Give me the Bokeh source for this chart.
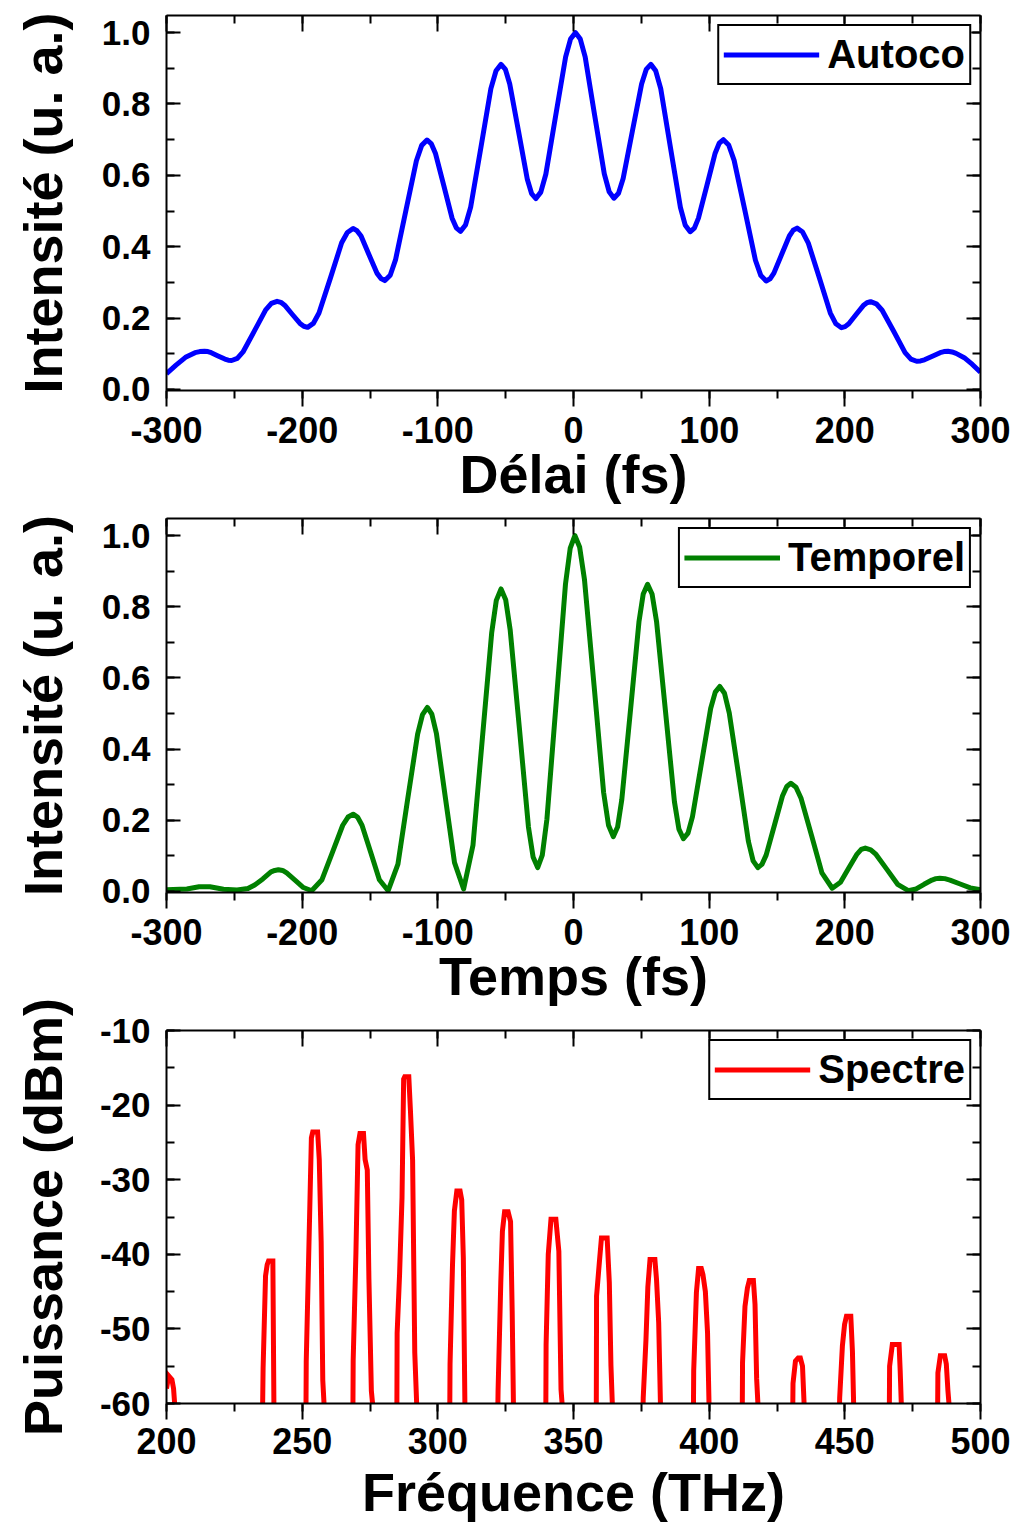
from bokeh.plotting import figure
from bokeh.layouts import column
from bokeh.models import (Range1d, LinearAxis, SingleIntervalTicker,
                          PrintfTickFormatter, CustomJSTickFormatter)
from bokeh.embed import file_html
from bokeh.resources import INLINE

# ---------------- data ----------------
delay_fs = [-300, -293, -286, -279, -275.5, -272, -269.5, -267, -262, -257, -254.5, -252,
            -247.8, -243.6, -235.2, -226.9, -222.7, -218.5, -215.7, -212.9, -207.2, -201.6,
            -198.8, -196, -191.8, -187.6, -179.2, -170.9, -166.7, -162.5, -159.6, -156.6,
            -150.8, -144.9, -141.9, -139, -135.1, -131.2, -123.5, -115.8, -111.9, -108,
            -104.9, -101.8, -95.6, -89.5, -86.4, -83.3, -79.6, -75.8, -68.3, -60.9, -57.1,
            -53.4, -50.2, -47.0, -40.5, -34.1, -30.9, -27.7, -24.1, -20.4, -13.1, -5.8, -2.2,
            1.5, 5.0, 8.6, 15.6, 22.7, 26.3, 29.8, 33.2, 36.6, 43.4, 50.2, 53.6, 57, 60.6,
            64.3, 71.5, 78.8, 82.4, 86, 89.1, 92.1, 98.3, 104.4, 107.4, 110.5, 114.4, 118.4,
            126.3, 134.1, 138.1, 142, 144.9, 147.7, 153.4, 159.1, 161.9, 164.8, 168.9, 173.0,
            181.2, 189.3, 193.4, 197.5, 200.2, 202.9, 208.3, 213.6, 216.3, 219, 223.2, 227.5,
            236.0, 244.4, 248.7, 252.9, 255.8, 258.7, 264.5, 270.2, 273.1, 276, 279, 282, 288,
            294, 300]
autoco = [0.044, 0.068, 0.090, 0.103, 0.106, 0.107, 0.106, 0.103, 0.094, 0.085, 0.082, 0.081,
          0.087, 0.105, 0.164, 0.223, 0.241, 0.247, 0.244, 0.236, 0.210, 0.185,
          0.177, 0.174, 0.185, 0.214, 0.312, 0.411, 0.440, 0.451, 0.445, 0.430,
          0.378, 0.326, 0.311, 0.305, 0.320, 0.363, 0.502, 0.641, 0.684, 0.699,
          0.689, 0.662, 0.571, 0.480, 0.453, 0.443, 0.461, 0.511, 0.677, 0.843, 0.893,
          0.911, 0.897, 0.856, 0.723, 0.590, 0.549, 0.535, 0.553, 0.603, 0.768, 0.932, 0.982,
          1.000, 0.982, 0.932, 0.768, 0.604, 0.554, 0.536, 0.550, 0.591, 0.724, 0.856, 0.897, 0.911, 0.893,
          0.843, 0.677, 0.510, 0.460, 0.442, 0.452, 0.480, 0.571, 0.662, 0.690, 0.700, 0.685, 0.642,
          0.502, 0.362, 0.319, 0.304, 0.310, 0.326, 0.378, 0.430, 0.446, 0.452, 0.441, 0.411,
          0.313, 0.214, 0.184, 0.173, 0.176, 0.184, 0.210, 0.235, 0.243, 0.246, 0.240, 0.222,
          0.163, 0.103, 0.085, 0.079, 0.080, 0.083, 0.093, 0.103, 0.106, 0.107, 0.105, 0.101, 0.089,
          0.070, 0.048]

time_fs = [-300, -285, -276, -268, -258, -248, -240, -235, -229, -223, -220.2, -217.5, -214.4,
           -211.4, -205.3, -199.1, -193, -185.4, -177.7, -170.1, -166.2, -162.4, -159.2, -155.9,
           -149.5, -143.1, -136.6, -129.4, -122.2, -114.9, -111.3, -107.7, -104.4, -101.0,
           -94.4, -87.7, -81, -74.1, -67.2, -60.3, -56.9, -53.4, -50.0, -46.7, -39.9, -33.2,
           -29.8, -26.4, -23.0, -19.6, -12.7, -5.9, -2.4, 1, 4.5, 8.1, 15.2, 22.2, 25.8, 29.3,
           32.5, 35.6, 42.0, 48.3, 51.4, 54.6, 57.9, 61.2, 67.8, 74.4, 77.7, 81, 84.4, 87.7,
           94.4, 101.1, 104.5, 107.8, 111.3, 114.8, 121.9, 128.9, 132.4, 135.9, 138.9, 142.0,
           148.1, 154.1, 157.2, 160.2, 164.0, 167.8, 175.5, 183.1, 190.7, 196.8, 202.9, 209.0,
           212.1, 215.1, 219.1, 223.0, 231.0, 238.9, 246.8, 252.6, 258.4, 264.2, 267.1, 270,
           273.7, 277.5, 285, 292.5, 300]
temporel = [0.005, 0.007, 0.013, 0.013, 0.006, 0.004, 0.008, 0.018, 0.035, 0.055, 0.059, 0.061, 0.059,
            0.052, 0.032, 0.011, 0.002, 0.033, 0.110, 0.186, 0.209, 0.217, 0.209, 0.186,
            0.110, 0.033, 0.002, 0.077, 0.260, 0.442, 0.497, 0.517, 0.498, 0.443,
            0.262, 0.081, 0.007, 0.130, 0.429, 0.727, 0.818, 0.850, 0.820, 0.736, 0.459, 0.181,
            0.097, 0.067, 0.102, 0.203, 0.534, 0.864, 0.965, 1.000, 0.968, 0.876, 0.577, 0.278, 0.186, 0.154,
            0.181, 0.258, 0.509, 0.759, 0.836, 0.863, 0.836, 0.759, 0.506, 0.252, 0.175, 0.148, 0.164, 0.210,
            0.362, 0.514, 0.560, 0.576, 0.557, 0.502, 0.322, 0.141, 0.086, 0.067, 0.076, 0.102,
            0.186, 0.269, 0.295, 0.304, 0.293, 0.261, 0.157, 0.052, 0.009, 0.026, 0.066, 0.105,
            0.118, 0.122, 0.117, 0.104, 0.062, 0.020, 0.002, 0.007, 0.020, 0.032, 0.036, 0.037,
            0.036, 0.032, 0.021, 0.010, 0.005]

freq_thz = [200.0, 200.8, 202.0, 202.6, 203.2,
            235.4, 235.6, 236.5, 237.1, 237.6, 239.2, 239.6,
            251.4, 251.5, 252.4, 253.4, 253.9, 255.7, 256.3, 257.0, 257.6, 258.2,
            268.7, 268.8, 269.8, 270.6, 271.3, 272.6, 273.2, 274.0, 274.6, 275.5, 276.2,
            284.9, 285.0, 285.9, 286.8, 287.4, 287.8, 289.3, 289.9, 290.7, 291.5, 292.3,
            304.4, 304.5, 305.4, 306.1, 307.0, 308.2, 308.8, 309.4, 310.0,
            322.1, 322.2, 323.2, 323.8, 324.6, 325.9, 326.8, 327.4, 327.9,
            339.8, 339.9, 340.7, 341.7, 343.5, 344.6, 345.4, 346.0,
            358.4, 358.5, 359.5, 360.3, 362.4, 363.2, 363.8, 364.4,
            375.6, 375.7, 376.7, 377.4, 378.2, 380.0, 380.6, 381.4, 382.1,
            394.2, 394.3, 395.3, 396.1, 397.1, 397.7, 398.6, 399.4, 400.0,
            412.2, 412.3, 413.2, 414.1, 414.8, 416.3, 416.9, 417.5, 418.1,
            430.8, 430.9, 431.8, 432.8, 433.6, 434.4, 435.1,
            448.0, 448.1, 449.1, 449.9, 450.6, 452.2, 452.8, 453.3,
            466.4, 466.5, 467.5, 470.0, 470.4, 470.9,
            484.2, 484.3, 485.2, 486.8, 487.4, 488.0, 488.6,
            500.0]
power_dbm = [-58.0, -56.3, -56.8, -58.0, -61,
             -61, -55.3, -42.9, -41.4, -40.9, -40.9, -61,
             -61, -54.4, -40.3, -24.4, -23.6, -23.6, -27.3, -38.3, -56.9, -61,
             -61, -54.2, -40.0, -25.3, -23.8, -23.8, -27.3, -28.7, -43.3, -58.3, -61,
             -61, -50.6, -42.7, -32.4, -16.5, -16.2, -16.2, -20.7, -27.4, -53.2, -61,
             -61, -54.7, -41.5, -34.2, -31.5, -31.5, -32.7, -40.5, -61,
             -61, -58.3, -43.8, -36.9, -34.3, -34.3, -35.6, -47.6, -61,
             -61, -52.1, -40.0, -35.3, -35.3, -39.6, -58.1, -61,
             -61, -45.6, -41.2, -37.8, -37.8, -43.8, -54.9, -61,
             -61, -59.2, -51.5, -44.4, -40.7, -40.7, -43.4, -49.2, -61,
             -61, -55.6, -45.1, -41.9, -41.9, -42.7, -45.0, -50.5, -61,
             -61, -54.5, -47.0, -44.5, -43.5, -43.5, -46.7, -56.7, -61,
             -61, -57.3, -54.3, -53.9, -53.9, -55.0, -61,
             -61, -59.2, -52.3, -49.4, -48.3, -48.3, -53.0, -61,
             -61, -55.0, -52.1, -52.1, -55.6, -61,
             -61, -55.9, -53.6, -53.6, -54.7, -58.3, -61,
             -61]

FONT = "Liberation Sans"


def make_panel(height, b_top, b_bottom, xr, yr, xint, yint, yfmt, xlabel, ylabel,
               lab_standoff, title_standoff, ytitle_standoff):
    p = figure(width=1015, height=height, x_range=Range1d(*xr), y_range=Range1d(*yr),
               output_backend="svg", toolbar_location=None, title=None,
               min_border_left=166, min_border_right=35,
               min_border_top=b_top, min_border_bottom=b_bottom)
    p.grid.visible = False
    p.outline_line_color = None
    p.background_fill_color = "white"

    bx = p.below[0]
    ly = p.left[0]
    bx.ticker = SingleIntervalTicker(interval=xint, num_minor_ticks=2)
    ly.ticker = SingleIntervalTicker(interval=yint, num_minor_ticks=2)
    bx.formatter = PrintfTickFormatter(format="%d")
    ly.formatter = PrintfTickFormatter(format=yfmt)

    for ax in (bx, ly):
        ax.axis_line_width = 2
        ax.axis_line_color = "black"
        ax.major_tick_line_width = 2
        ax.minor_tick_line_width = 2
        ax.major_tick_line_color = "black"
        ax.minor_tick_line_color = "black"
        ax.major_label_text_font = FONT
        ax.major_label_text_font_style = "bold"
        ax.major_label_text_color = "black"
        ax.axis_label_text_font = FONT
        ax.axis_label_text_font_style = "bold"
        ax.axis_label_text_color = "black"
        ax.axis_label_text_font_size = "54px"

    bx.axis_label = xlabel
    bx.major_tick_in, bx.major_tick_out = 0, 16
    bx.minor_tick_in, bx.minor_tick_out = 0, 8
    bx.major_label_text_font_size = "36px"
    bx.major_label_standoff = lab_standoff
    bx.axis_label_standoff = title_standoff

    ly.axis_label = ylabel
    ly.major_tick_in, ly.major_tick_out = 14, 0
    ly.minor_tick_in, ly.minor_tick_out = 8, 0
    ly.major_label_text_font_size = "35px"
    ly.major_label_standoff = 16
    ly.axis_label_standoff = ytitle_standoff

    top = LinearAxis(ticker=SingleIntervalTicker(interval=xint, num_minor_ticks=2),
                     formatter=CustomJSTickFormatter(code="return ''"),
                     major_tick_in=16, major_tick_out=0,
                     minor_tick_in=8, minor_tick_out=0, major_label_standoff=0,
                     major_label_text_font_size="0px")
    right = LinearAxis(ticker=SingleIntervalTicker(interval=yint, num_minor_ticks=2),
                       formatter=CustomJSTickFormatter(code="return ''"),
                       major_tick_in=14, major_tick_out=0,
                       minor_tick_in=8, minor_tick_out=0, major_label_standoff=0,
                       major_label_text_font_size="0px")
    for ax in (top, right):
        ax.axis_line_width = 2
        ax.axis_line_color = "black"
        ax.major_tick_line_width = 2
        ax.minor_tick_line_width = 2
    p.add_layout(top, "above")
    p.add_layout(right, "right")
    return p


def style_legend(p):
    lg = p.legend[0]
    lg.location = "top_right"
    lg.margin = 9
    lg.padding = 4
    lg.spacing = 0
    lg.border_line_color = "black"
    lg.border_line_alpha = 1.0
    lg.border_line_width = 2
    lg.background_fill_color = "white"
    lg.background_fill_alpha = 1.0
    lg.label_text_font = FONT
    lg.label_text_font_style = "bold"
    lg.label_text_font_size = "40px"
    lg.label_text_color = "black"
    lg.glyph_width = 96
    lg.glyph_height = 49
    lg.label_height = 49
    lg.label_standoff = 8


# Panel 1: autocorrelation
p1 = make_panel(520, 15, 130, (-300, 300), (-0.003, 1.048), 100, 0.2, "%.1f",
                "Délai (fs)", "Intensité (u. a.)", 10, -2, 26)
p1.line(delay_fs, autoco, line_color="#0000FF", line_width=5, line_join="round",
        legend_label="Autoco")
style_legend(p1)

# Panel 2: temporal profile
p2 = make_panel(524, 20, 130, (-300, 300), (-0.003, 1.048), 100, 0.2, "%.1f",
                "Temps (fs)", "Intensité (u. a.)", 10, -2, 26)
p2.line(time_fs, temporel, line_color="#008000", line_width=5, line_join="round",
        legend_label="Temporel")
style_legend(p2)
p2.border_fill_color = None
p2.margin = (-22, 0, 0, 0)

# Panel 3: spectrum
p3 = make_panel(543, 40, 130, (200, 500), (-60, -10), 50, 10, "%d",
                "Fréquence (THz)", "Puissance (dBm)", 8, 5, 24)
p3.line(freq_thz, power_dbm, line_color="#FF0000", line_width=5, line_join="miter",
        legend_label="Spectre")
style_legend(p3)
p3.border_fill_color = None
p3.margin = (-32, 0, 0, 0)

layout = column(p1, p2, p3, spacing=0)
open("out.html", "w").write(file_html(layout, INLINE))
